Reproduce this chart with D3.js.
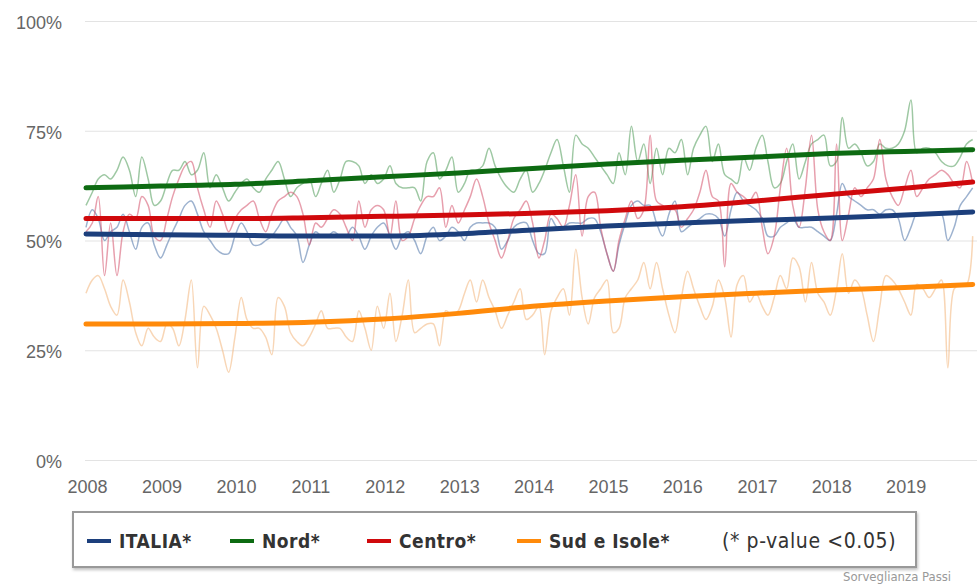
<!DOCTYPE html>
<html>
<head>
<meta charset="utf-8">
<script src="https://cdn.jsdelivr.net/npm/d3@7"></script>
<style>
  body { margin: 0; background: #fff; }
  svg { display: block; font-family: "DejaVu Sans Condensed", "DejaVu Sans", sans-serif; font-stretch: condensed; }
</style>
</head>
<body>
<div id="chart"></div>
<script>
"use strict";

// monthly values Jan 2008 - Dec 2019 (%)
const italia = [53,57,55,50,52,53,56,52,48,53,54,49, 46,49,52,55,58,59,56,52,50,48,47,47,
  51,54,52,49,49,50,51,53,55,53,51,45, 49,52,51,51,52,51,51,53,51,48,51,53,
  54,51,48,51,52,50,47,51,53,50,51,53, 52,50,53,54,54,54,53,48,50,53,54,54,
  50,47,47,55,53,53,54,54,54,55,55,52, 47,43,49,54,58,59,58,58,54,51,56,59,
  52,53,54,55,56,56,55,51,57,61,59,58, 57,55,51,51,53,54,55,53,53,53,52,51,
  50,56,63,60,59,58,57,57,56,57,57,55, 50,53,56,56,56,56,56,50,53,58,60,62];
const nord = [58,61,64,65,64,66,69,66,60,69,64,58, 59,63,66,66,68,65,66,70,62,65,62,59,
  61,63,64,62,61,64,66,68,64,60,62,63, 64,60,63,66,61,64,68,68,67,63,65,63,
  64,67,63,62,62,62,59,68,70,64,66,69, 61,63,66,66,67,71,67,64,62,61,64,66,
  61,63,66,70,73,67,61,74,72,71,69,67, 65,63,70,65,76,68,72,63,71,65,71,70,
  73,65,71,74,76,68,72,65,64,63,69,66, 71,74,68,62,63,68,72,64,68,72,73,74,
  67,68,78,71,72,70,67,68,72,71,71,72, 75,82,70,71,71,70,68,67,67,69,72,73];
const centro = [52,54,60,42,54,42,52,56,55,60,58,51, 50,55,60,64,67,68,62,57,53,59,56,52,
  55,57,58,59,55,52,56,59,60,61,60,56, 49,54,53,55,57,56,53,50,59,53,57,58,
  57,51,59,50,51,55,58,60,60,62,53,58, 54,57,60,64,60,54,50,46,50,55,57,59,
  54,46,50,56,55,53,58,65,51,60,61,53, 47,43,50,55,59,55,57,74,59,58,57,57,
  53,55,57,61,66,60,59,44,63,61,60,59, 61,53,47,51,62,71,58,53,62,74,57,52,
  50,72,50,56,62,60,62,64,73,64,60,58, 62,66,60,62,64,65,66,65,63,62,68,63];
const sud = [38,41,42,39,35,33,41,36,29,26,30,28, 27,31,30,26,32,41,21,35,33,30,25,20,
  28,37,32,30,30,28,24,37,35,29,27,26, 28,31,34,30,30,30,28,27,34,30,25,35,
  30,38,27,33,41,29,30,31,31,26,34,33, 34,38,41,36,41,37,34,30,33,36,39,32,
  33,35,24,34,37,39,33,48,37,31,37,39, 41,29,30,37,39,41,45,39,45,39,33,29,
  37,43,39,35,32,35,41,37,28,40,42,36, 38,35,33,37,42,39,46,44,36,45,38,36,
  33,39,47,38,41,39,33,27,35,42,41,39, 36,33,40,39,37,39,41,21,39,40,40,51];

// trend lines, one value per January 2008..2019 plus Dec 2019
const trendItalia = [51.5,51.3,51.2,51.0,51.0,51.5,52.4,53.3,54.0,54.6,55.1,55.8,56.5];
const trendNord   = [62.0,62.4,62.8,63.6,64.5,65.4,66.4,67.4,68.3,69.0,69.8,70.3,70.7];
const trendCentro = [55.0,55.0,55.0,55.2,55.5,55.8,56.2,56.8,57.7,59.0,60.5,61.9,63.3];
const trendSud    = [31.0,31.0,31.1,31.4,32.1,33.4,35.0,36.2,37.2,38.0,38.7,39.3,40.0];

const trendMonths = [0,12,24,36,48,60,72,84,96,108,120,132,143];
const yearTicks = [2008,2009,2010,2011,2012,2013,2014,2015,2016,2017,2018,2019];
const yTicks = [0,25,50,75,100];

const series = [
  { name: "ITALIA*", values: italia, trend: trendItalia, thin: "#4d73a8", thick: "#1c3f7c" },
  { name: "Nord*", values: nord, trend: trendNord, thin: "#4f9a58", thick: "#0d6b12" },
  { name: "Centro*", values: centro, trend: trendCentro, thin: "#d4506a", thick: "#d0090c" },
  { name: "Sud e Isole*", values: sud, trend: trendSud, thin: "#f2b57a", thick: "#ff8a0a" }
];

const width = 977, height = 586;
const months = d3.timeMonth.range(new Date(2008, 0, 1), new Date(2020, 0, 1));

const x = d3.scaleTime()
  .domain([new Date(2008, 0, 1), new Date(2020, 0, 1)])
  .range([86, 979]);
const y = d3.scaleLinear().domain([0, 100]).range([460, 21]);

const svg = d3.select("#chart").append("svg")
  .attr("width", width)
  .attr("height", height);

// grid
svg.append("g")
  .selectAll("line")
  .data(yTicks)
  .join("line")
    .attr("x1", 85).attr("x2", width)
    .attr("y1", d => y(d) + 0.5).attr("y2", d => y(d) + 0.5)
    .attr("stroke", "#e3e3e3")
    .attr("stroke-width", 1);

// y axis labels
const yAxis = svg.append("g")
  .attr("transform", "translate(62,1)")
  .call(d3.axisLeft(y).tickValues(yTicks).tickFormat(d => d + "%").tickSize(0).tickPadding(0));
yAxis.select(".domain").remove();
yAxis.selectAll("text")
  .attr("fill", "#666")
  .style("font-size", "18px")
  .attr("dy", "0.35em");

// x axis labels
const xAxis = svg.append("g")
  .attr("transform", "translate(1,487)")
  .call(d3.axisBottom(x)
    .tickValues(yearTicks.map(yr => new Date(yr, 0, 1)))
    .tickFormat(d3.timeFormat("%Y"))
    .tickSize(0).tickPadding(0));
xAxis.select(".domain").remove();
xAxis.selectAll("text")
  .attr("fill", "#666")
  .style("font-size", "18px")
  .attr("dy", "0.35em")
  .attr("y", 0);

// thin monthly lines
const thinLine = d3.line()
  .x((d, i) => x(months[i]))
  .y(d => y(d))
  .curve(d3.curveCatmullRom.alpha(0.5));

svg.append("g")
  .selectAll("path")
  .data(series)
  .join("path")
    .attr("d", d => thinLine(d.values))
    .attr("fill", "none")
    .attr("stroke", d => d.thin)
    .attr("stroke-opacity", 0.55)
    .attr("stroke-width", 1.5);

// thick trend lines
const trendLine = d3.line()
  .x((d, i) => x(months[trendMonths[i]]))
  .y(d => y(d))
  .curve(d3.curveMonotoneX);

svg.append("g")
  .selectAll("path")
  .data(series)
  .join("path")
    .attr("d", d => trendLine(d.trend))
    .attr("fill", "none")
    .attr("stroke", d => d.thick)
    .attr("stroke-width", 5)
    .attr("stroke-linecap", "round");

// legend
const defs = svg.append("defs");
const f = defs.append("filter").attr("id", "shadow").attr("x", "-5%").attr("y", "-20%").attr("width", "110%").attr("height", "150%");
f.append("feDropShadow").attr("dx", 1).attr("dy", 2).attr("stdDeviation", 1.5).attr("flood-color", "#000").attr("flood-opacity", 0.25);

svg.append("rect")
  .attr("x", 73).attr("y", 512)
  .attr("width", 843).attr("height", 55)
  .attr("fill", "#fff")
  .attr("stroke", "#999")
  .attr("stroke-width", 2)
  .attr("filter", "url(#shadow)");

const legendX = [87, 230, 367, 517];
const leg = svg.append("g")
  .selectAll("g")
  .data(series)
  .join("g")
    .attr("transform", (d, i) => `translate(${legendX[i]},541)`);

leg.append("line")
  .attr("x1", 0).attr("x2", 24)
  .attr("stroke", d => d.thick)
  .attr("stroke-width", 4);

leg.append("text")
  .attr("x", 32)
  .attr("dy", "0.35em")
  .attr("fill", "#333")
  .style("font-size", "19px")
  .style("font-weight", "bold")
  .style("letter-spacing", "0.5px")
  .text(d => d.name);

svg.append("text")
  .attr("x", 722).attr("y", 541)
  .attr("dy", "0.35em")
  .attr("fill", "#333")
  .style("font-size", "21px")
  .style("letter-spacing", "0.6px")
  .text("(* p-value <0.05)");

// credits
svg.append("text")
  .attr("x", 843).attr("y", 581)
  .attr("fill", "#999")
  .style("font-size", "13px")
  .text("Sorveglianza Passi");
</script>
</body>
</html>
